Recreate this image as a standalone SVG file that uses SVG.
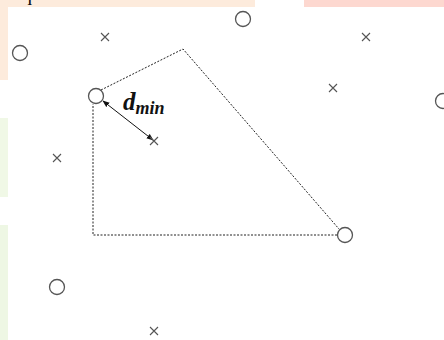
<svg xmlns="http://www.w3.org/2000/svg" width="444" height="340" viewBox="0 0 444 340">
<style>
.pt{fill:none;stroke:#555;stroke-width:1.3}
.x{stroke:#555;stroke-width:1.1}
.poly{fill:none;stroke:#222;stroke-width:1;stroke-dasharray:2 1.5}
</style>
<defs>
<marker id="ah" viewBox="0 0 10 10" refX="9" refY="5" markerWidth="7" markerHeight="7" orient="auto-start-reverse" markerUnits="userSpaceOnUse">
<path d="M0,1 L10,5 L0,9 z" fill="#111"/>
</marker>
<g id="cross"><path d="M-4,-4 L4,4 M4,-4 L-4,4"/></g>
</defs>
<rect width="444" height="340" fill="#fff"/>
<g id="backdrop">
<rect x="0" y="0" width="255" height="7" fill="#fdebdc"/>
<rect x="0" y="0" width="8" height="80" fill="#fdebdc"/>
<rect x="304" y="0" width="140" height="7" fill="#fdd8d0"/>
<rect x="0" y="118" width="8" height="79" fill="#f0f8e6"/>
<rect x="0" y="225" width="8" height="115" fill="#eef7e4"/>
<text x="8" y="0" font-family="Liberation Serif, serif" font-size="20" fill="#111">e quare</text>
</g>
<g id="connectors">
<path class="poly" d="M101,90 L183,49 L339,229"/>
<path class="poly" d="M337,235 L93,235 L93,104"/>
<line x1="103" y1="101" x2="153" y2="140" stroke="#111" stroke-width="1" marker-start="url(#ah)" marker-end="url(#ah)"/>
</g>
<g id="circles" class="pt">
<circle id="c1" cx="20" cy="53" r="7.5"/>
<circle id="c2" cx="243" cy="19" r="7.5"/>
<circle id="c3" cx="96" cy="96" r="7.5"/>
<circle id="c4" cx="443" cy="101" r="7.5"/>
<circle id="c5" cx="345" cy="235" r="7.5"/>
<circle id="c6" cx="57" cy="287" r="7.5"/>
</g>
<g id="crosses" class="x">
<use id="x1" href="#cross" x="105" y="37"/>
<use id="x2" href="#cross" x="366" y="37"/>
<use id="x3" href="#cross" x="333" y="88"/>
<use id="x4" href="#cross" x="154" y="141"/>
<use id="x5" href="#cross" x="57" y="158"/>
<use id="x6" href="#cross" x="154" y="331"/>
</g>
<g id="label">
<text x="123" y="110" font-family="Liberation Serif, serif" font-weight="bold" font-style="italic" font-size="25" fill="#111">d<tspan font-size="18" dy="4">min</tspan></text>
</g>
</svg>
